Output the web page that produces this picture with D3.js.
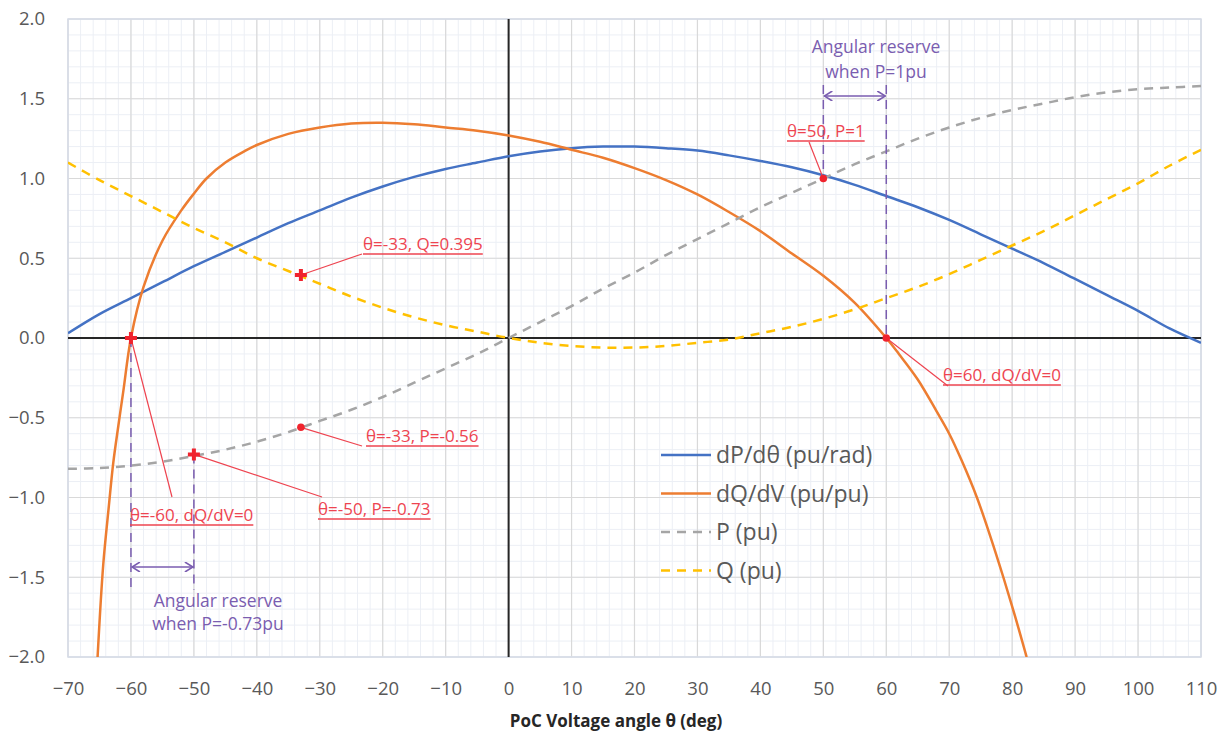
<!DOCTYPE html>
<html>
<head>
<meta charset="utf-8">
<script src="https://cdn.jsdelivr.net/npm/d3@7"></script>
<style>
  body { margin: 0; background: #fff; }
  text { font-family: "Open Sans", "Noto Sans", sans-serif; }
</style>
</head>
<body>
<div id="chart"></div>
<script>
// curve data
const theta = [-70,-65,-60,-55,-50,-45,-40,-35,-30,-25,-20,-15,-10,-5,0,5,10,15,20,25,30,35,40,45,50,55,60,65,70,75,80,85,90,95,100,105,110];
const dPdTheta = [0.03,0.15,0.25,0.35,0.45,0.54,0.63,0.72,0.80,0.88,0.95,1.01,1.06,1.10,1.14,1.17,1.19,1.20,1.20,1.19,1.175,1.145,1.11,1.07,1.02,0.96,0.89,0.82,0.74,0.65,0.56,0.47,0.37,0.27,0.17,0.06,-0.03];
const P = [-0.82,-0.815,-0.80,-0.775,-0.74,-0.70,-0.65,-0.59,-0.52,-0.45,-0.37,-0.28,-0.19,-0.10,0,0.10,0.20,0.31,0.41,0.52,0.62,0.72,0.82,0.91,1.00,1.09,1.17,1.25,1.32,1.38,1.43,1.47,1.51,1.54,1.56,1.57,1.58];
const Q = [1.10,0.99,0.89,0.79,0.69,0.60,0.50,0.42,0.34,0.26,0.19,0.13,0.08,0.04,0,-0.03,-0.05,-0.06,-0.06,-0.05,-0.03,-0.01,0.03,0.07,0.12,0.18,0.25,0.32,0.40,0.49,0.58,0.67,0.77,0.87,0.97,1.08,1.18];
// dQ/dV has its own angle points (steep ends)
const thetaQV = [-65.3,-64.4,-63.5,-62.8,-62,-61.2,-60,-58,-55,-52,-50,-48,-45,-42,-40,-35,-30,-25,-20,-15,-10,-5,0,5,10,15,20,25,30,35,40,45,50,55,60,62,65,68,70,72,74.4,76.5,78.6,80.5,82.3];
const dQdV = [-2.0,-1.42,-1.05,-0.78,-0.55,-0.33,0,0.32,0.61,0.80,0.905,1.00,1.10,1.17,1.21,1.28,1.32,1.345,1.35,1.34,1.32,1.30,1.27,1.23,1.18,1.13,1.065,0.99,0.90,0.79,0.67,0.53,0.39,0.22,0,-0.10,-0.26,-0.46,-0.60,-0.77,-1.0,-1.24,-1.5,-1.75,-2.0];

const xTicks = [-70,-60,-50,-40,-30,-20,-10,0,10,20,30,40,50,60,70,80,90,100,110];
const yTicks = [-2,-1.5,-1,-0.5,0,0.5,1,1.5,2];
const seriesNames = ["dP/dθ (pu/rad)", "dQ/dV (pu/pu)", "P (pu)", "Q (pu)"];
const seriesColors = ["#4472C4", "#ED7D31", "#A5A5A5", "#FFC000"];

// annotated points: [theta, value, label, symbol]
const notes = [
  [-33, 0.395, "θ=-33, Q=0.395", "cross"],
  [-33, -0.56, "θ=-33, P=-0.56", "dot"],
  [-50, -0.73, "θ=-50, P=-0.73", "cross"],
  [-60, 0, "θ=-60, dQ/dV=0", "cross"],
  [60, 0, "θ=60, dQ/dV=0", "dot"],
  [50, 1.0, "θ=50, P=1", "dot"]
];

let width = 1221;
let height = 735;
let margin = {top: 19, bottom: 78, left: 68, right: 20};

let svg = d3.select('#chart')
            .append('svg')
            .attr('width', width)
            .attr('height', height);

let xScale = d3.scaleLinear()
               .domain([-70, 110])
               .range([margin.left, width - margin.right]);
let yScale = d3.scaleLinear()
               .domain([-2, 2])
               .range([height - margin.bottom, margin.top]);

svg.append('defs').append('clipPath').attr('id', 'plotclip')
   .append('rect')
   .attr('x', margin.left).attr('y', margin.top)
   .attr('width', width - margin.left - margin.right)
   .attr('height', height - margin.top - margin.bottom);

// arrow head for the purple reserve arrows
svg.select('defs').append('marker')
   .attr('id', 'vhead')
   .attr('viewBox', '0 0 10 10')
   .attr('refX', 9).attr('refY', 5)
   .attr('markerWidth', 10).attr('markerHeight', 10)
   .attr('markerUnits', 'userSpaceOnUse')
   .attr('orient', 'auto-start-reverse')
   .append('path')
   .attr('d', 'M1,0 L9,5 L1,10')
   .attr('fill', 'none')
   .attr('stroke', '#7A5DB0')
   .attr('stroke-width', 1.6);

// minor grid (2 deg / 0.1 pu)
let grid = svg.append('g');
grid.selectAll('.vminor')
    .data(d3.range(-70, 111, 2))
    .enter().append('line')
    .attr('x1', d => xScale(d)).attr('x2', d => xScale(d))
    .attr('y1', yScale(2)).attr('y2', yScale(-2))
    .attr('stroke', '#eceff5').attr('stroke-width', 1);
grid.selectAll('.hminor')
    .data(d3.range(-20, 21).map(d => d / 10))
    .enter().append('line')
    .attr('y1', d => yScale(d)).attr('y2', d => yScale(d))
    .attr('x1', xScale(-70)).attr('x2', xScale(110))
    .attr('stroke', '#eceff5').attr('stroke-width', 1);
// major grid
grid.selectAll('.vmajor')
    .data(xTicks)
    .enter().append('line')
    .attr('x1', d => xScale(d)).attr('x2', d => xScale(d))
    .attr('y1', yScale(2)).attr('y2', yScale(-2))
    .attr('stroke', '#d9d9d9').attr('stroke-width', 1.2);
grid.selectAll('.hmajor')
    .data(yTicks)
    .enter().append('line')
    .attr('y1', d => yScale(d)).attr('y2', d => yScale(d))
    .attr('x1', xScale(-70)).attr('x2', xScale(110))
    .attr('stroke', '#d9d9d9').attr('stroke-width', 1.2);
grid.append('rect')
    .attr('x', xScale(-70)).attr('y', yScale(2))
    .attr('width', xScale(110) - xScale(-70))
    .attr('height', yScale(-2) - yScale(2))
    .attr('fill', 'none').attr('stroke', '#d6dce8').attr('stroke-width', 1.5);

// zero axes
svg.append('line')
   .attr('x1', xScale(-70)).attr('x2', xScale(110))
   .attr('y1', yScale(0)).attr('y2', yScale(0))
   .attr('stroke', '#262626').attr('stroke-width', 2);
svg.append('line')
   .attr('x1', xScale(0)).attr('x2', xScale(0))
   .attr('y1', yScale(2)).attr('y2', yScale(-2))
   .attr('stroke', '#262626').attr('stroke-width', 2);

// tick labels
let xAxis = svg.append('g')
   .attr('transform', `translate(0, ${yScale(-2)})`)
   .call(d3.axisBottom(xScale).tickValues(xTicks).tickSize(0).tickPadding(25));
let yAxis = svg.append('g')
   .attr('transform', `translate(${xScale(-70)}, 0)`)
   .call(d3.axisLeft(yScale).tickValues(yTicks).tickFormat(d3.format('.1f')).tickSize(0).tickPadding(23));
svg.selectAll('.domain').remove();
svg.selectAll('.tick text')
   .attr('fill', '#595959')
   .style('font-size', '18.5px')
   .style('font-family', '"Open Sans", sans-serif');

svg.append('text')
   .attr('x', 616).attr('y', 727)
   .attr('text-anchor', 'middle')
   .attr('fill', '#262626')
   .style('font-size', '17px')
   .style('font-weight', 'bold')
   .text('PoC Voltage angle θ (deg)');

// series lines
let curves = svg.append('g').attr('clip-path', 'url(#plotclip)');
let line = d3.line()
   .x(d => xScale(d[0]))
   .y(d => yScale(d[1]))
   .curve(d3.curveCatmullRom.alpha(0.5));

curves.append('path')
   .datum(theta.map((t, i) => [t, dPdTheta[i]]))
   .attr('fill', 'none').attr('stroke', seriesColors[0]).attr('stroke-width', 2.5)
   .attr('d', line);
curves.append('path')
   .datum(thetaQV.map((t, i) => [t, dQdV[i]]))
   .attr('fill', 'none').attr('stroke', seriesColors[1]).attr('stroke-width', 2.5)
   .attr('d', line);
curves.append('path')
   .datum(theta.map((t, i) => [t, P[i]]))
   .attr('fill', 'none').attr('stroke', seriesColors[2]).attr('stroke-width', 2.5)
   .attr('stroke-dasharray', '9,7')
   .attr('d', line);
curves.append('path')
   .datum(theta.map((t, i) => [t, Q[i]]))
   .attr('fill', 'none').attr('stroke', seriesColors[3]).attr('stroke-width', 2.5)
   .attr('stroke-dasharray', '9,7')
   .attr('d', line);

// legend
let legend = svg.append('g');
seriesNames.forEach((name, i) => {
  let y = 455 + i * 38.5;
  legend.append('line')
     .attr('x1', 661).attr('x2', 711)
     .attr('y1', y).attr('y2', y)
     .attr('stroke', seriesColors[i]).attr('stroke-width', 2.5)
     .attr('stroke-dasharray', i >= 2 ? '9,7' : null);
  legend.append('text')
     .attr('x', 716).attr('y', y)
     .attr('dy', '0.35em')
     .attr('fill', '#595959')
     .style('font-size', '23px')
     .text(name);
});

// purple angular reserve marks
let purple = '#7A5DB0';
let reserve = svg.append('g');
// P = 1pu, between 50 and 60 deg
reserve.append('line')
   .attr('x1', xScale(50)).attr('x2', xScale(50))
   .attr('y1', 85).attr('y2', yScale(1.0))
   .attr('stroke', purple).attr('stroke-width', 1.5).attr('stroke-dasharray', '9,6');
reserve.append('line')
   .attr('x1', xScale(60)).attr('x2', xScale(60))
   .attr('y1', 85).attr('y2', yScale(0))
   .attr('stroke', purple).attr('stroke-width', 1.5).attr('stroke-dasharray', '9,6');
reserve.append('line')
   .attr('x1', xScale(50) + 1).attr('x2', xScale(60) - 1)
   .attr('y1', 96).attr('y2', 96)
   .attr('stroke', purple).attr('stroke-width', 1.6)
   .attr('marker-start', 'url(#vhead)').attr('marker-end', 'url(#vhead)');
reserve.append('text')
   .attr('x', 876).attr('y', 53).attr('text-anchor', 'middle')
   .attr('fill', purple).style('font-size', '17.5px')
   .text('Angular reserve');
reserve.append('text')
   .attr('x', 876).attr('y', 78).attr('text-anchor', 'middle')
   .attr('fill', purple).style('font-size', '17.5px')
   .text('when P=1pu');
// P = -0.73pu, between -60 and -50 deg
reserve.append('line')
   .attr('x1', xScale(-60)).attr('x2', xScale(-60))
   .attr('y1', yScale(0)).attr('y2', 590)
   .attr('stroke', purple).attr('stroke-width', 1.5).attr('stroke-dasharray', '9,6');
reserve.append('line')
   .attr('x1', xScale(-50)).attr('x2', xScale(-50))
   .attr('y1', yScale(-0.73)).attr('y2', 590)
   .attr('stroke', purple).attr('stroke-width', 1.5).attr('stroke-dasharray', '9,6');
reserve.append('line')
   .attr('x1', xScale(-60) + 1).attr('x2', xScale(-50) - 1)
   .attr('y1', 567).attr('y2', 567)
   .attr('stroke', purple).attr('stroke-width', 1.6)
   .attr('marker-start', 'url(#vhead)').attr('marker-end', 'url(#vhead)');
reserve.append('text')
   .attr('x', 218).attr('y', 607).attr('text-anchor', 'middle')
   .attr('fill', purple).style('font-size', '17.5px')
   .text('Angular reserve');
reserve.append('text')
   .attr('x', 218).attr('y', 630).attr('text-anchor', 'middle')
   .attr('fill', purple).style('font-size', '17.5px')
   .text('when P=-0.73pu');

// red point labels: [text x, baseline y, leader start x, leader start y]
const labelPos = [
  [363, 250, 362, 254],
  [366, 442, 362, 446],
  [318, 515, 322, 497],
  [130, 521, 172, 497],
  [943, 381, 948, 386],
  [787, 137, 809, 142]
];
let red = '#EE4450';
let notesG = svg.append('g');
notes.forEach((n, i) => {
  let [tx, ty, lx, ly] = labelPos[i];
  let px = xScale(n[0]), py = yScale(n[1]);
  notesG.append('line')
     .attr('x1', lx).attr('y1', ly).attr('x2', px).attr('y2', py)
     .attr('stroke', red).attr('stroke-width', 1.2);
  let t = notesG.append('text')
     .attr('x', tx).attr('y', ty)
     .attr('fill', red)
     .style('font-size', '17px')
     .text(n[2]);
  let w = t.node().getComputedTextLength();
  notesG.append('line')
     .attr('x1', tx).attr('x2', tx + w)
     .attr('y1', ty + 4).attr('y2', ty + 4)
     .attr('stroke', red).attr('stroke-width', 1.5);
  notesG.append('path')
     .attr('transform', `translate(${px},${py})`)
     .attr('d', d3.symbol().type(n[3] === 'cross' ? d3.symbolCross : d3.symbolCircle).size(n[3] === 'cross' ? 80 : 45))
     .attr('fill', '#F0232D');
});
</script>
</body>
</html>
